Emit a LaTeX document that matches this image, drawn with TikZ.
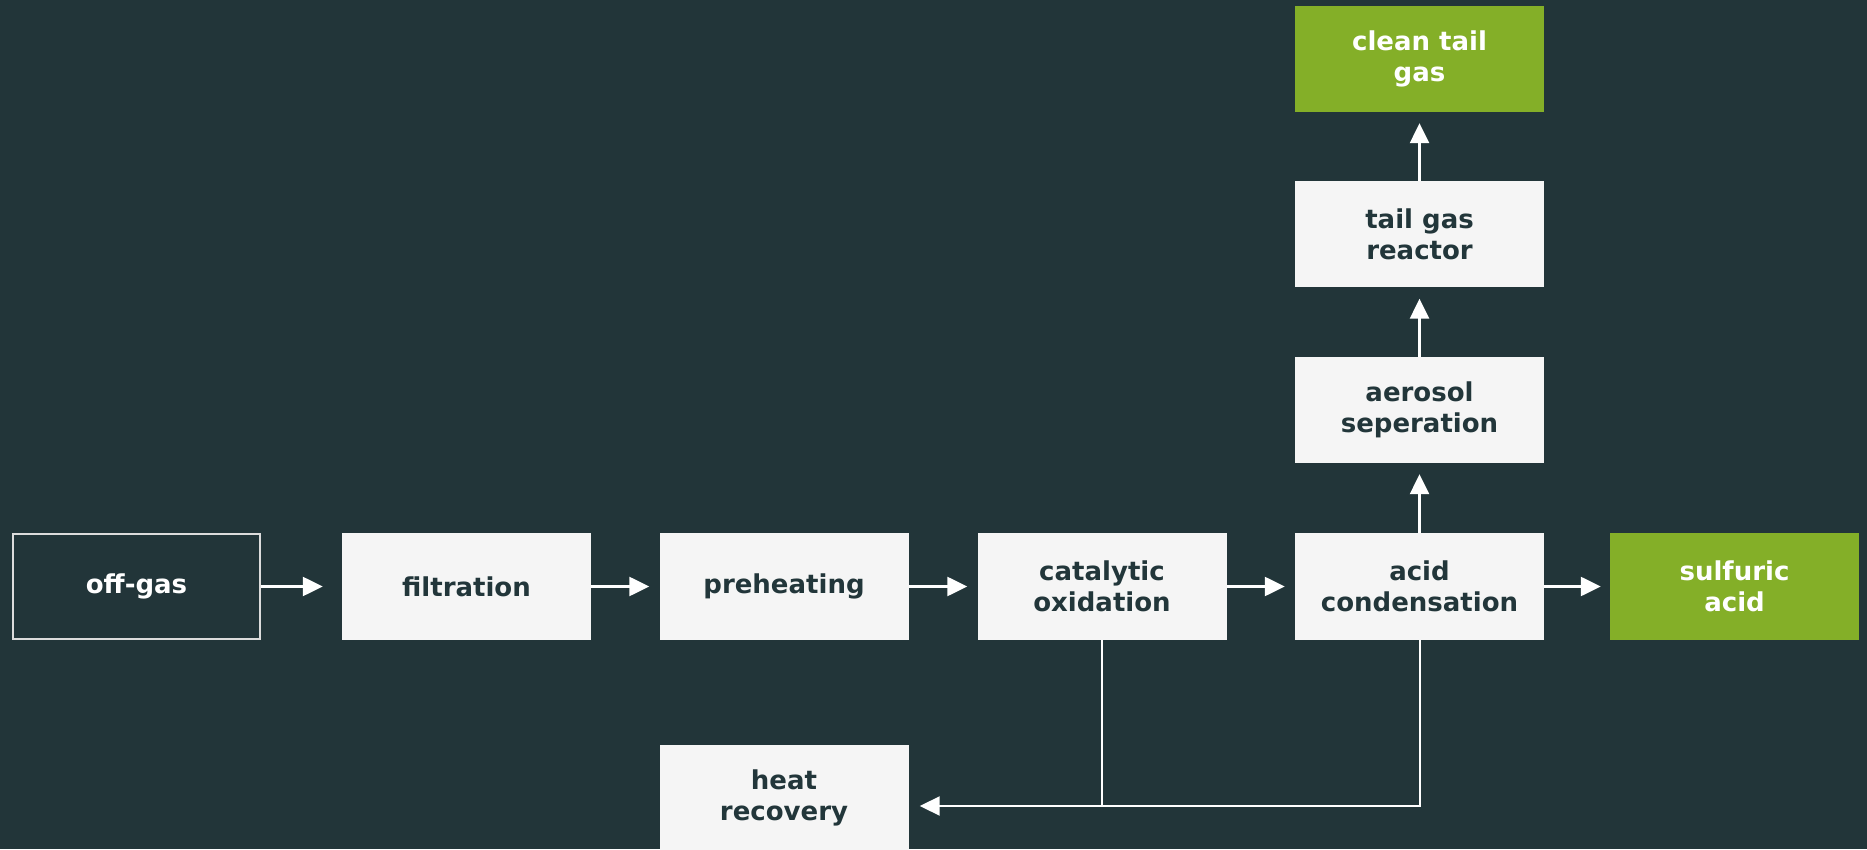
\documentclass[tikz,border=0pt]{standalone}
\usepackage{fontspec}
\setmainfont{DejaVu Sans}
\usetikzlibrary{arrows.meta}
\definecolor{bg}{HTML}{223539}
\definecolor{boxfill}{HTML}{F5F5F5}
\definecolor{txt}{HTML}{22363A}
\definecolor{grn}{HTML}{84AF28}
\definecolor{edge}{HTML}{DCDCDC}
\tikzset{
  proc/.style={rectangle, minimum width=249pt, minimum height=106pt, inner sep=0pt,
    align=center, font=\fontsize{26}{30.7}\selectfont\bfseries},
  lightbox/.style={proc, fill=boxfill, text=txt},
  greenbox/.style={proc, fill=grn, text=white},
  srcbox/.style={proc, fill=bg, draw=edge, line width=2pt, text=white,
    minimum width=247pt, minimum height=104pt},
  flow/.style={draw=white, line width=2.4pt, -{Triangle[length=20pt,width=19pt]}},
  fb/.style={draw=white, line width=2pt},
}
\begin{document}
\begin{tikzpicture}[x=1pt,y=1pt]
\fill[bg] (0,0) rectangle (1867,849);
\useasboundingbox (0,0) rectangle (1867,849);

\node[srcbox]   (off)  at (136.5,262.5) {off-gas};
\node[lightbox] (fil)  at (466.5,262.5) {filtration};
\node[lightbox] (pre)  at (784,262.5) {preheating};
\node[lightbox] (cat)  at (1102,262.5) {catalytic\\oxidation};
\node[lightbox] (acd)  at (1419.5,262.5) {acid\\condensation};
\node[greenbox] (sul)  at (1734.5,262.5) {sulfuric\\acid};
\node[lightbox] (aer)  at (1419.5,439) {aerosol\\seperation};
\node[lightbox] (tgr)  at (1419.5,614.5) {tail gas\\reactor};
\node[greenbox] (cln)  at (1419.5,790) {clean tail\\gas};
\node[lightbox] (hr)   at (784,51) {heat\\recovery};

\draw[flow, shorten >=19pt] (off.east) -- (fil.west);
\draw[flow, shorten >=10pt] (fil.east) -- (pre.west);
\draw[flow, shorten >=10pt] (pre.east) -- (cat.west);
\draw[flow, shorten >=10pt] (cat.east) -- (acd.west);
\draw[flow, shorten >=9pt] (acd.east) -- (sul.west);
\draw[flow, shorten >=11pt] (acd.north) -- (aer.south);
\draw[flow, shorten >=11pt] (aer.north) -- (tgr.south);
\draw[flow, shorten >=11pt] (tgr.north) -- (cln.south);

\coordinate (hrin) at ([yshift=-8pt]hr.east);
\draw[fb] (cat.south) -- (cat.south |- hrin);
\draw[fb, -{Triangle[length=20pt,width=19pt]}, shorten >=11pt] (acd.south) |- (hrin);
\end{tikzpicture}
\end{document}
